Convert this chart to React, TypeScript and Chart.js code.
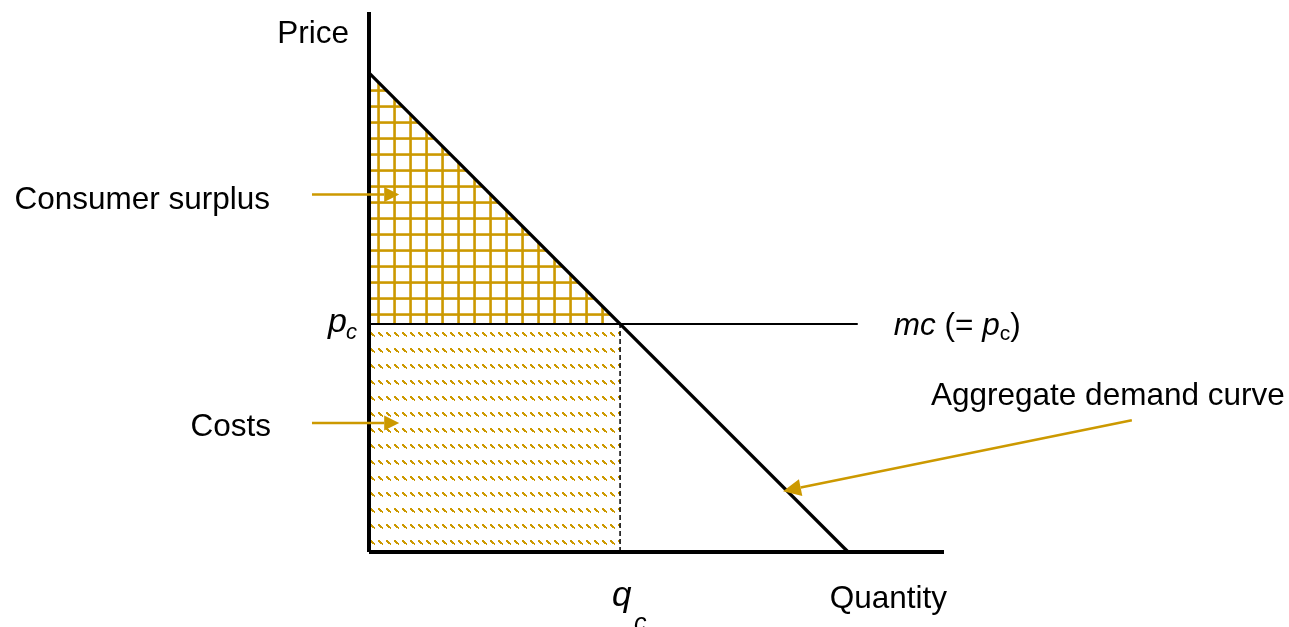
import React, { useEffect, useRef } from "react";
import { Chart, registerables } from "chart.js";
Chart.register(...registerables);

// ---- data (economic units) ----
const demandQuantity = [0, 100];
const demandPrice = [100, 0];
const competitivePrice = 47.6; // p_c = mc
const competitiveQuantity = 52.4; // q_c
const mcLineEndQuantity = 102;
const axisMaxQuantity = 120;
const axisMaxPrice = 112.7;
const axisTitles = ["Price", "Quantity"];
const areaLabels = ["Consumer surplus", "Costs"];
const curveLabel = "Aggregate demand curve";
// arrow endpoints in data units: [fromQ, fromP, toQ, toP]
const surplusArrow = [-11.9, 74.6, 6.3, 74.6];
const costsArrow = [-11.9, 26.9, 6.3, 26.9];
const demandArrow = [159.2, 27.5, 86.4, 12.7];

const GOLD = "rgb(204,153,0)";
const FONT = '"Liberation Sans", Arial, sans-serif';

function makeGridPattern(ctx: CanvasRenderingContext2D) {
  const c = document.createElement("canvas");
  c.width = 16;
  c.height = 16;
  const g = c.getContext("2d")!;
  g.fillStyle = GOLD;
  g.fillRect(9.25, 0, 2.6, 16);
  g.fillRect(0, 9.25, 16, 2.6);
  return ctx.createPattern(c, "repeat")!;
}

function makeDiagPattern(ctx: CanvasRenderingContext2D) {
  const c = document.createElement("canvas");
  c.width = 8;
  c.height = 16;
  const g = c.getContext("2d")!;
  g.fillStyle = GOLD;
  const steps = [
    [2, 12],
    [3, 13],
    [4, 14],
    [5, 15],
  ];
  for (const [sx, sy] of steps) {
    g.fillRect(sx, sy, 2, 2);
  }
  g.fillRect(6, 0, 1, 1);
  return ctx.createPattern(c, "repeat")!;
}

function drawArrow(
  ctx: CanvasRenderingContext2D,
  x1: number,
  y1: number,
  x2: number,
  y2: number,
  headLen: number,
  headHalf: number
) {
  const ang = Math.atan2(y2 - y1, x2 - x1);
  const bx = x2 - headLen * Math.cos(ang);
  const by = y2 - headLen * Math.sin(ang);
  ctx.strokeStyle = GOLD;
  ctx.fillStyle = GOLD;
  ctx.lineWidth = 2.5;
  ctx.beginPath();
  ctx.moveTo(x1, y1);
  ctx.lineTo(bx, by);
  ctx.stroke();
  ctx.beginPath();
  ctx.moveTo(x2, y2);
  ctx.lineTo(bx + headHalf * Math.sin(ang), by - headHalf * Math.cos(ang));
  ctx.lineTo(bx - headHalf * Math.sin(ang), by + headHalf * Math.cos(ang));
  ctx.closePath();
  ctx.fill();
}

const overlayPlugin = {
  id: "overlay",
  afterDatasetsDraw(chart: any) {
    const { ctx } = chart;
    const xs = chart.scales.x;
    const ys = chart.scales.y;
    const X = (v: number) => xs.getPixelForValue(v);
    const Y = (v: number) => ys.getPixelForValue(v);
    ctx.save();

    drawArrow(ctx, X(surplusArrow[0]), Y(surplusArrow[1]), X(surplusArrow[2]), Y(surplusArrow[3]), 15, 7.5);
    drawArrow(ctx, X(costsArrow[0]), Y(costsArrow[1]), X(costsArrow[2]), Y(costsArrow[3]), 15, 7.5);
    drawArrow(ctx, X(demandArrow[0]), Y(demandArrow[1]), X(demandArrow[2]), Y(demandArrow[3]), 18, 8.5);

    ctx.fillStyle = "#000";
    ctx.textBaseline = "alphabetic";
    ctx.font = `31.5px ${FONT}`;

    // axis titles
    ctx.textAlign = "right";
    ctx.fillText(axisTitles[0], X(0) - 20, Y(axisMaxPrice) + 31);
    ctx.fillText(axisTitles[1], X(axisMaxQuantity) + 3, Y(0) + 56);

    // area labels
    ctx.fillText(areaLabels[0], X(surplusArrow[0]) - 42, Y(surplusArrow[1]) + 14);
    ctx.fillText(areaLabels[1], X(costsArrow[0]) - 41, Y(costsArrow[1]) + 13);

    // aggregate demand label
    ctx.textAlign = "left";
    ctx.fillText(curveLabel, 931, Y(competitivePrice) + 81);

    // p_c on price axis
    const pcY = Y(competitivePrice);
    ctx.font = `italic 34px ${FONT}`;
    ctx.fillText("p", X(0) - 41, pcY + 8);
    ctx.font = `italic 22px ${FONT}`;
    ctx.fillText("c", X(0) - 23, pcY + 15);

    // mc (= p_c)
    let tx = X(mcLineEndQuantity) + 36;
    const tb = pcY + 11;
    ctx.font = `italic 31.5px ${FONT}`;
    ctx.fillText("mc", tx, tb);
    tx += ctx.measureText("mc").width;
    ctx.font = `31.5px ${FONT}`;
    ctx.fillText(" (= ", tx, tb);
    tx += ctx.measureText(" (= ").width;
    ctx.font = `italic 31.5px ${FONT}`;
    ctx.fillText("p", tx, tb);
    tx += ctx.measureText("p").width;
    ctx.font = `21px ${FONT}`;
    ctx.fillText("c", tx, tb + 5);
    tx += ctx.measureText("c").width;
    ctx.font = `31.5px ${FONT}`;
    ctx.fillText(")", tx, tb);

    // q_c on quantity axis
    const qcX = X(competitiveQuantity);
    ctx.font = `italic 35px ${FONT}`;
    ctx.fillText("q", qcX - 8, Y(0) + 54);
    ctx.font = `italic 25px ${FONT}`;
    ctx.fillText("c", qcX + 14, Y(0) + 79);

    ctx.restore();
  },
};

export default function App() {
  const ref = useRef<HTMLCanvasElement>(null);
  useEffect(() => {
    const canvas = ref.current!;
    const ctx = canvas.getContext("2d")!;
    const grid = makeGridPattern(ctx);
    const diag = makeDiagPattern(ctx);
    const line = (data: { x: number; y: number }[], extra: any) => ({
      data,
      pointRadius: 0,
      borderColor: "#000",
      backgroundColor: "transparent",
      fill: false,
      tension: 0,
      clip: false,
      ...extra,
    });
    const pc = competitivePrice;
    const qc = competitiveQuantity;
    const chart = new Chart(ctx, {
      type: "line",
      data: {
        datasets: [
          line(
            [
              { x: demandQuantity[0], y: demandPrice[0] },
              { x: qc, y: pc },
            ],
            { borderColor: "transparent", borderWidth: 0, fill: { value: pc }, backgroundColor: grid, order: 10 }
          ),
          line(
            [
              { x: 0, y: pc },
              { x: qc, y: pc },
            ],
            { borderColor: "transparent", borderWidth: 0, fill: "origin", backgroundColor: diag, order: 9 }
          ),
          line(
            [
              { x: qc, y: 0 },
              { x: qc, y: pc },
            ],
            { borderWidth: 1.5, borderDash: [5, 3], order: 5 }
          ),
          line(
            [
              { x: 0, y: pc },
              { x: mcLineEndQuantity, y: pc },
            ],
            { borderWidth: 2, order: 4 }
          ),
          line(
            [
              { x: demandQuantity[0], y: demandPrice[0] },
              { x: demandQuantity[1], y: demandPrice[1] },
            ],
            { borderWidth: 3.2, order: 3 }
          ),
          line(
            [
              { x: 0, y: 0 },
              { x: 0, y: axisMaxPrice },
            ],
            { borderWidth: 4, order: 2 }
          ),
          line(
            [
              { x: 0, y: 0 },
              { x: axisMaxQuantity, y: 0 },
            ],
            { borderWidth: 4, order: 1 }
          ),
        ],
      },
      options: {
        responsive: false,
        animation: false,
        events: [],
        layout: { padding: { left: 369, right: 345, top: 12, bottom: 75 } },
        scales: {
          x: { type: "linear", min: 0, max: axisMaxQuantity, display: false },
          y: { type: "linear", min: 0, max: axisMaxPrice, display: false },
        },
        plugins: {
          legend: { display: false },
          tooltip: { enabled: false },
          title: { display: false },
        },
      },
      plugins: [overlayPlugin],
    });
    return () => chart.destroy();
  }, []);
  return (
    <div style={{ position: "fixed", left: 0, top: 0, width: 1289, height: 627, background: "#fff" }}>
      <canvas ref={ref} width={1289} height={627} style={{ display: "block", width: 1289, height: 627 }} />
    </div>
  );
}
